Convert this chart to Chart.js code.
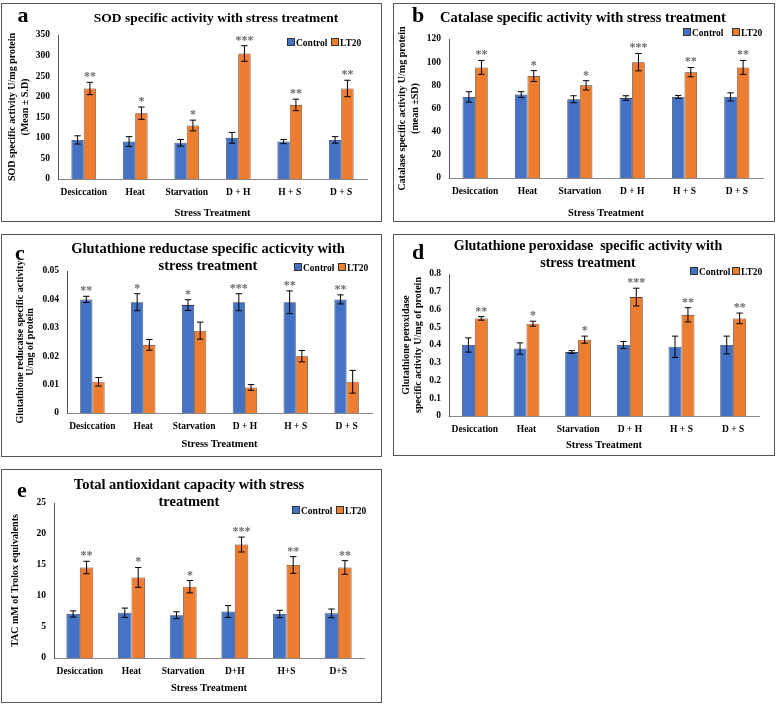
<!DOCTYPE html>
<html><head><meta charset="utf-8">
<script src="https://cdn.jsdelivr.net/npm/chart.js@4"></script>
<style>
body{margin:0;width:777px;height:704px;background:#fff;position:relative;overflow:hidden;font-family:"Liberation Serif","Times New Roman",serif;}
.frame{position:absolute;border:1.5px solid #555;box-sizing:border-box;}
canvas.ch{position:absolute;}
.ttl{position:absolute;font-weight:bold;white-space:nowrap;transform:translate(-50%,-50%);color:#000;font-size:14.5px;line-height:17px;text-align:center;}
.let{position:absolute;font-weight:bold;font-size:22px;transform:translate(-50%,-50%);color:#000;}
.leg{position:absolute;font-weight:bold;font-size:9.5px;white-space:nowrap;transform:translateY(-50%);color:#000;}
.leg .sq{display:inline-block;width:6px;height:6px;border:0.5px solid #333;margin-right:1px;vertical-align:0px;}
</style></head><body>
<script>
// ---------- data ----------
const categories = ["Desiccation","Heat","Starvation","D + H","H + S","D + S"];
const categoriesE = ["Desiccation","Heat","Starvation","D+H","H+S","D+S"];
const seriesNames = ["Control","LT20"];
const stars = ["**","*","*","***","**","**"];

const sodControl = [95,91,88,100,91,95];
const sodControlSD = [10,12,8,13,5,8];
const sodLT20 = [220,160,130,305,180,220];
const sodLT20SD = [15,15,13,19,14,20];
const sodTicks = [0,50,100,150,200,250,300,350];

const catControl = [70,72,68,69,70,70];
const catControlSD = [4.5,2.5,3,2,1.3,3.5];
const catLT20 = [95.5,88,80,100,91.4,95.5];
const catLT20SD = [6,4.7,4,7.5,4,6];
const catTicks = [0,20,40,60,80,100,120];

const grControl = [0.040,0.039,0.038,0.039,0.039,0.040];
const grControlSD = [0.0011,0.003,0.0019,0.003,0.004,0.0016];
const grLT20 = [0.011,0.024,0.029,0.009,0.020,0.011];
const grLT20SD = [0.0015,0.0019,0.003,0.001,0.002,0.004];
const grTicks = [0,0.01,0.02,0.03,0.04,0.05];

const gpxControl = [0.40,0.38,0.36,0.40,0.39,0.40];
const gpxControlSD = [0.04,0.032,0.008,0.02,0.06,0.05];
const gpxLT20 = [0.55,0.52,0.43,0.67,0.57,0.55];
const gpxLT20SD = [0.01,0.014,0.02,0.05,0.04,0.03];
const gpxTicks = [0,0.1,0.2,0.3,0.4,0.5,0.6,0.7,0.8];

const tacControl = [7.1,7.3,6.9,7.5,7.1,7.2];
const tacControlSD = [0.5,0.75,0.55,0.95,0.6,0.7];
const tacLT20 = [14.6,13.0,11.5,18.3,15.0,14.6];
const tacLT20SD = [1.0,1.6,1.0,1.2,1.35,1.1];
const tacTicks = [0,5,10,15,20,25];

// ---------- helpers ----------
const FONT = "'Liberation Serif','Times New Roman',serif";
const BLUE = '#4472C4', ORANGE = '#ED7D31';

const errorPlugin = {
  id: 'errbars',
  afterDatasetsDraw(chart) {
    const ctx = chart.ctx, y = chart.scales.y;
    const n = chart.data.labels.length;
    ctx.save();
    ctx.strokeStyle = '#000'; ctx.lineWidth = 1;
    const tops = [];
    chart.data.datasets.forEach((ds, di) => {
      const meta = chart.getDatasetMeta(di);
      meta.data.forEach((bar, j) => {
        const v = ds.data[j], e = ds.errors[j];
        const yt = y.getPixelForValue(v + e), yb = y.getPixelForValue(v - e);
        const x = bar.x, cw = 3.2;
        ctx.beginPath();
        ctx.moveTo(x, yt); ctx.lineTo(x, yb);
        ctx.moveTo(x - cw, yt); ctx.lineTo(x + cw, yt);
        ctx.moveTo(x - cw, yb); ctx.lineTo(x + cw, yb);
        ctx.stroke();
        if (!tops[j] || yt < tops[j].y) tops[j] = {y: yt, x: x};
      });
    });
    const st = chart.options.plugins.errbars.stars;
    ctx.fillStyle = '#6b6b6b';
    ctx.font = 'bold 12px ' + FONT;
    ctx.textAlign = 'center'; ctx.textBaseline = 'alphabetic';
    for (let j = 0; j < n; j++) {
      ctx.fillText(st[j], tops[j].x, tops[j].y - 2);
    }
    ctx.restore();
  }
};

function makeChart(cfg) {
  const c = document.createElement('canvas');
  c.className = 'ch';
  c.style.left = cfg.L + 'px'; c.style.top = cfg.T + 'px';
  c.style.width = cfg.W + 'px'; c.style.height = cfg.H + 'px';
  c.width = cfg.W; c.height = cfg.H;
  document.body.appendChild(c);
  const f = document.createElement('div');
  f.className = 'frame';
  f.style.left = cfg.L + 'px'; f.style.top = cfg.T + 'px';
  f.style.width = cfg.W + 'px'; f.style.height = cfg.H + 'px';
  document.body.appendChild(f);

  const a = cfg.area;
  const xtFont = 10.5, xtLH = 12;
  new Chart(c, {
    type: 'bar',
    data: {
      labels: cfg.labels,
      datasets: [
        {label: seriesNames[0], data: cfg.ctrl, errors: cfg.ctrlSD, backgroundColor: BLUE, borderColor: '#2f3f5f', borderWidth: 0.8, categoryPercentage: cfg.cp, barPercentage: 1},
        {label: seriesNames[1], data: cfg.lt, errors: cfg.ltSD, backgroundColor: ORANGE, borderColor: '#5f3a1f', borderWidth: 0.8, categoryPercentage: cfg.cp, barPercentage: 1}
      ]
    },
    plugins: [errorPlugin],
    options: {
      responsive: false, animation: false, devicePixelRatio: 1,
      layout: {padding: {left: 0, top: a.top, right: cfg.W - a.right, bottom: 0}},
      plugins: {
        legend: {display: false}, tooltip: {enabled: false}, title: {display: false},
        errbars: {stars: stars}
      },
      scales: {
        x: {
          grid: {display: false, drawTicks: false},
          border: {display: true, color: '#888', width: 1},
          ticks: {color: '#000', font: {family: FONT, weight: 'bold', size: 9.5}, padding: 8, maxRotation: 0, autoSkip: false},
          title: {display: true, text: 'Stress Treatment', color: '#000', font: {family: FONT, weight: 'bold', size: xtFont, lineHeight: xtLH/xtFont}, padding: {top: 0, bottom: cfg.H - cfg.xTitleY - xtLH/2}},
          afterFit(s) { s.height = cfg.H - a.bottom; }
        },
        y: {
          min: cfg.ticks[0], max: cfg.ticks[cfg.ticks.length - 1],
          afterBuildTicks(s) { s.ticks = cfg.ticks.map(v => ({value: v})); },
          grid: {display: false, drawTicks: false},
          border: {display: true, color: '#555', width: 1},
          ticks: {color: '#000', font: {family: FONT, weight: 'bold', size: 9.5}, padding: 8, callback: v => String(+v.toFixed(3))},
          title: {display: true, text: cfg.ytitle, color: '#000', font: {family: FONT, weight: 'bold', size: 10, lineHeight: cfg.ylh/10}, padding: {top: cfg.yTitleX - cfg.ylh/2, bottom: 0}},
          afterFit(s) { s.width = a.left; }
        }
      }
    }
  });

  // title
  const t = document.createElement('div');
  t.className = 'ttl';
  t.style.left = cfg.tx + 'px'; t.style.top = cfg.ty + 'px';
  if (cfg.tsize) t.style.fontSize = cfg.tsize + 'px';
  t.innerHTML = cfg.title;
  document.body.appendChild(t);
  const l = document.createElement('div');
  l.className = 'let';
  l.style.left = cfg.lx + 'px'; l.style.top = cfg.ly + 'px';
  l.textContent = cfg.letter;
  document.body.appendChild(l);
  // legend
  [[seriesNames[0], BLUE, cfg.lg[0]], [seriesNames[1], ORANGE, cfg.lg[1]]].forEach(([name, col, x]) => {
    const g = document.createElement('div');
    g.className = 'leg';
    g.style.left = x + 'px'; g.style.top = cfg.lg[2] + 'px';
    g.innerHTML = '<span class="sq" style="background:' + col + '"></span>' + name;
    document.body.appendChild(g);
  });
}

makeChart({L: 1, T: 3, W: 381, H: 219, area: {left: 57, top: 32, right: 366, bottom: 176},
  labels: categories, ctrl: sodControl, ctrlSD: sodControlSD, lt: sodLT20, ltSD: sodLT20SD, ticks: sodTicks, cp: 0.48,
  ytitle: ['SOD specific activity U/mg protein', '(Mean ± S.D)'], yTitleX: 11, ylh: 13, xTitleY: 210,
  title: 'SOD specific activity with stress treatment', tsize: 13.5, tx: 216, ty: 17, letter: 'a', lx: 23, ly: 15, lg: [287, 331, 43]});

makeChart({L: 393, T: 3, W: 382, H: 219, area: {left: 56, top: 36, right: 370, bottom: 175},
  labels: categories, ctrl: catControl, ctrlSD: catControlSD, lt: catLT20, ltSD: catLT20SD, ticks: catTicks, cp: 0.48,
  ytitle: ['Catalase specific activity U/mg protein', '(mean ±SD)'], yTitleX: 9, ylh: 13, xTitleY: 210,
  title: 'Catalase specific activity with stress treatment', tx: 583, ty: 17, letter: 'b', lx: 418, ly: 15, lg: [683, 732, 33]});

makeChart({L: 1, T: 234, W: 381, H: 223, area: {left: 66, top: 37, right: 371, bottom: 179},
  labels: categories, ctrl: grControl, ctrlSD: grControlSD, lt: grLT20, ltSD: grLT20SD, ticks: grTicks, cp: 0.48,
  ytitle: ['Glutathione reducatse specific activity', 'U/mg of protein'], yTitleX: 19, ylh: 10, xTitleY: 210,
  title: 'Glutathione reductase specific acticvity with<br>stress treatment', tx: 208, ty: 257, letter: 'c', lx: 20, ly: 253, lg: [294, 338, 268]});

makeChart({L: 393, T: 234, W: 382, H: 222, area: {left: 56, top: 40, right: 366, bottom: 182},
  labels: categories, ctrl: gpxControl, ctrlSD: gpxControlSD, lt: gpxLT20, ltSD: gpxLT20SD, ticks: gpxTicks, cp: 0.5,
  ytitle: ['Glutathione peroxidase', 'specific activity U/mg of protein'], yTitleX: 13, ylh: 12, xTitleY: 211,
  title: 'Glutathione peroxidase&nbsp; specific activity with<br>stress treatment', tsize: 14, tx: 588, ty: 254, letter: 'd', lx: 418, ly: 252, lg: [690, 732, 272]});

makeChart({L: 1, T: 469, W: 381, H: 234, area: {left: 53, top: 34, right: 363, bottom: 189},
  labels: categoriesE, ctrl: tacControl, ctrlSD: tacControlSD, lt: tacLT20, ltSD: tacLT20SD, ticks: tacTicks, cp: 0.52,
  ytitle: 'TAC mM of Trolox equivalents', yTitleX: 14, ylh: 12, xTitleY: 219,
  title: 'Total antioxidant capacity with stress<br>treatment', tx: 189, ty: 493, letter: 'e', lx: 22, ly: 490, lg: [292, 336, 511]});
</script>
</body></html>
